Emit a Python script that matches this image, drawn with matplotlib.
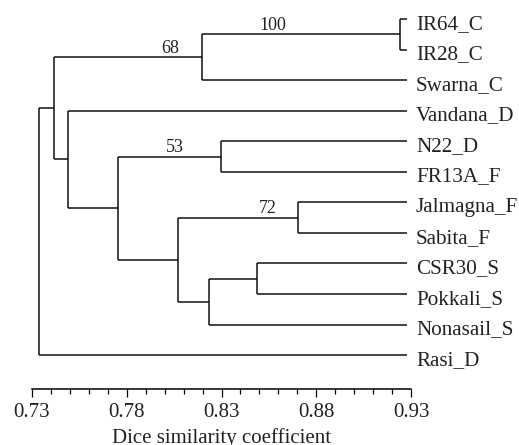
import matplotlib
matplotlib.use('Agg')
import matplotlib.pyplot as plt
from matplotlib.ticker import MultipleLocator

# Hojas del dendrograma (de arriba a abajo)
leaves = ["IR64_C", "IR28_C", "Swarna_C", "Vandana_D", "N22_D", "FR13A_F",
          "Jalmagna_F", "Sabita_F", "CSR30_S", "Pokkali_S", "Nonasail_S", "Rasi_D"]

# Uniones: nodo hijo izquierdo, hijo derecho, similitud (nodos nuevos 12, 13, ...)
merge_left = [0, 12, 4, 6, 8, 16, 15, 14, 3, 13, 21]
merge_right = [1, 2, 5, 7, 9, 10, 17, 18, 19, 20, 11]
merge_sim = [0.924, 0.8197, 0.8297, 0.8704, 0.8487, 0.8234, 0.807, 0.7754, 0.749, 0.7416, 0.7337]

# Valores bootstrap (nodo, valor, posicion x de la etiqueta)
boot_node = [12, 13, 14, 15]
boot_val = ["100", "68", "53", "72"]
boot_x = [0.857, 0.8028, 0.8055, 0.8543]

leaf_end = 0.928

fig = plt.figure(figsize=(5.19, 4.45), dpi=100)
ax = fig.add_axes([32 / 519, 56 / 445, 379 / 519, 388.3 / 445])
lw = 1.1
col = '#111111'
fuente = 'Liberation Serif'

# posiciones de los nodos
xs = [leaf_end] * len(leaves)
ys = list(range(len(leaves)))
for l, r, s in zip(merge_left, merge_right, merge_sim):
    # vertical de la union
    ax.plot([s, s], [ys[l], ys[r]], color=col, lw=lw, solid_capstyle='butt')
    # horizontales hacia los hijos
    ax.plot([s, xs[l]], [ys[l], ys[l]], color=col, lw=lw, solid_capstyle='butt')
    ax.plot([s, xs[r]], [ys[r], ys[r]], color=col, lw=lw, solid_capstyle='butt')
    xs.append(s)
    ys.append((ys[l] + ys[r]) / 2.)

# etiquetas de las hojas
for i, name in enumerate(leaves):
    ax.annotate(name, (leaf_end, i), xytext=(6.3, -7), textcoords='offset points',
                va='baseline', ha='left', fontsize=15.2, family=fuente,
                color='#222222', annotation_clip=False)

# etiquetas bootstrap
for n, v, bx in zip(boot_node, boot_val, boot_x):
    ax.annotate(v, (bx, ys[n]), xytext=(0, 3.2), textcoords='offset points',
                va='baseline', ha='center', fontsize=13, family=fuente,
                color='#222222', annotation_clip=False)

ax.set_xlim(0.73, 0.93)
ax.set_ylim(12.11, -0.6)
for s in ['left', 'right', 'top']:
    ax.spines[s].set_visible(False)
ax.spines['bottom'].set_linewidth(lw)
ax.set_yticks([])
ax.set_xticks([0.73, 0.78, 0.83, 0.88, 0.93])
ax.set_xticklabels(["0.73", "0.78", "0.83", "0.88", "0.93"])
ax.xaxis.set_minor_locator(MultipleLocator(0.01))
ax.tick_params(axis='x', which='major', length=5.8, width=0.9, pad=4,
               labelsize=15, labelcolor='#222222')
ax.tick_params(axis='x', which='minor', length=3.6, width=0.9)
for t in ax.get_xticklabels():
    t.set_family(fuente)
ax.set_xlabel("Dice similarity coefficient", fontsize=15,
              family=fuente, color='#222222', labelpad=4.5)

fig.savefig("out.png", dpi=100)
